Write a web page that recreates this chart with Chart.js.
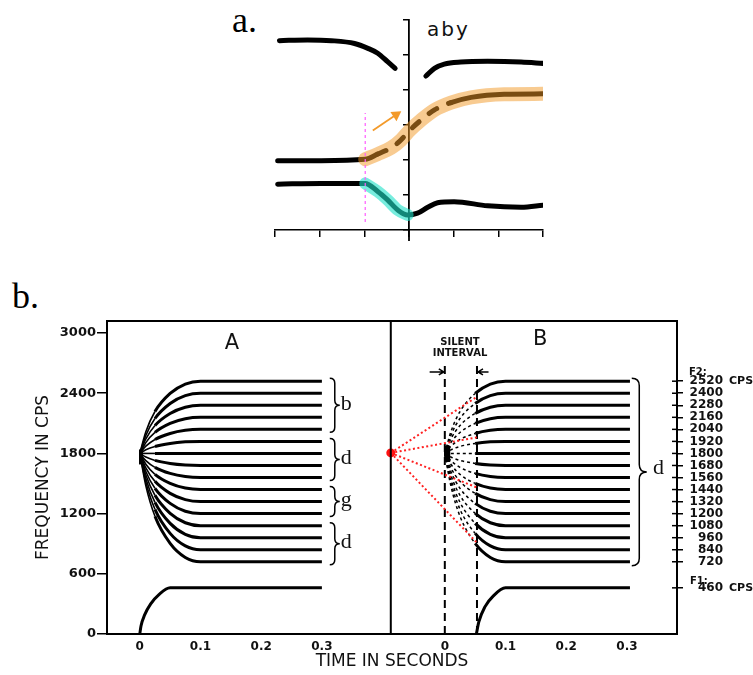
<!DOCTYPE html>
<html>
<head>
<meta charset="utf-8">
<script src="https://cdn.jsdelivr.net/npm/chart.js@4.4.1/dist/chart.umd.min.js"></script>
<style>
  html, body { margin: 0; padding: 0; background: #fff; }
  body { width: 753px; height: 675px; position: relative; overflow: hidden; }
  .lbl { position: absolute; font-family: "Liberation Serif", serif; font-size: 36px; line-height: 36px; color: #000; }
  #aby { position: absolute; left: 427px; top: 19px; font-family: "DejaVu Sans", sans-serif; font-size: 20px; line-height: 20px; letter-spacing: 2px; color: #111; }
  #chartA { position: absolute; left: 0; top: 0; }
  #chartB { position: absolute; left: 0; top: 270px; }
</style>
</head>
<body>
<div class="lbl" style="left:232px;top:2px">a.</div>
<div class="lbl" style="left:12px;top:278px">b.</div>
<div id="aby">aby</div>
<canvas id="chartA" width="753" height="260" style="width:753px;height:260px"></canvas>
<canvas id="chartB" width="753" height="405" style="width:753px;height:405px"></canvas>
<script>
"use strict";

// ---- a. formant sketch (x, y in tick spacings, x = 0 at the release) ----
const F3_LEFT_X = [-2.90, -2.27, -1.74, -1.22, -0.92, -0.70, -0.48, -0.31];
const F3_LEFT_Y = [5.41, 5.43, 5.41, 5.33, 5.19, 5.05, 4.81, 4.62];
const F3_RIGHT_X = [0.38, 0.57, 0.79, 1.16, 1.76, 2.51, 3.01];
const F3_RIGHT_Y = [4.40, 4.62, 4.74, 4.80, 4.82, 4.80, 4.76];
const F2_X = [-2.94, -1.97, -0.98, -0.70, -0.40, -0.18, 0.01, 0.27, 0.57, 0.94, 1.39, 2.13, 2.99];
const F2_Y = [1.98, 1.98, 2.02, 2.17, 2.35, 2.57, 2.84, 3.14, 3.43, 3.64, 3.79, 3.88, 3.89];
const F1_X = [-2.94, -1.97, -0.98, -0.70, -0.48, -0.25, -0.03, 0.19, 0.42, 0.64, 1.01, 1.76, 2.51, 3.01];
const F1_Y = [1.31, 1.33, 1.33, 1.10, 0.86, 0.57, 0.43, 0.48, 0.65, 0.78, 0.81, 0.69, 0.65, 0.71];
const ONSET_X = -0.98;
const MARKER_Y = [0.23, 3.34];
const ARROW_X = [-0.81, -0.29];
const ARROW_Y = [2.84, 3.29];

// ---- b. synthetic patterns, frequency in cps, time in s ----
const F2_LEVELS = [2520, 2400, 2280, 2160, 2040, 1920, 1800, 1680, 1560, 1440, 1320, 1200, 1080, 960, 840, 720];
const F2_HUB = 1800;
// shape of the F2 transitions: share of the way from hub to level
const TRANS_T = [0, 0.01, 0.025, 0.05, 0.075, 0.1];
const TRANS_FRAC = [0, 0.30, 0.58, 0.83, 0.96, 1];
const END_A = 0.30;
const END_B = 0.305;
const F1_LEVEL = 460;
const F1_A_T = [0, 0.002, 0.008, 0.018, 0.032, 0.05, 0.30];
const F1_A_F = [0, 80, 190, 300, 395, 460, 460];
const F1_B_T = [0.052, 0.056, 0.066, 0.08, 0.1, 0.305];
const F1_B_F = [0, 120, 270, 380, 460, 460];
const HUB_A = [1690, 1840];
const HUB_B = [1715, 1875];
const SILENCE = [0, 0.053];
const SILENCE_TOP = 2680;
const RED_DOT_F = 1805;
const FAN_END_T = 0.053;
const FAN_END_F = [2365, 1960, 1460, 910];
const GROUPS_A = [[2520, 2040, "b"], [1920, 1560, "d"], [1440, 1200, "g"], [1080, 720, "d"]];
const Y_TICKS = [0, 600, 1200, 1800, 2400, 3000];
const X_TICKS = [0, 0.1, 0.2, 0.3];
const B_OFFSET = 0.5025;   // where panel B's time 0 sits on the shared axis
const DIVIDER_T = 0.4135;

const pts = (xs, ys) => xs.map((x, i) => ({x, y: ys[i]}));
const noUi = {legend: {display: false}, tooltip: {enabled: false}};

// ================= chart a =================
const black = {
    borderColor: "#000", borderWidth: 5, borderCapStyle: "round", borderJoinStyle: "round",
    pointRadius: 0, cubicInterpolationMode: "monotone", order: 5
};

const axisExt = {
    id: "axisExt",
    afterDraw(chart) {
        const {ctx, scales: {x, y}} = chart;
        ctx.save();
        ctx.strokeStyle = "#000";
        ctx.lineWidth = 1.8;
        ctx.beginPath();
        ctx.moveTo(x.getPixelForValue(0), y.getPixelForValue(0));
        ctx.lineTo(x.getPixelForValue(0), y.getPixelForValue(0) + 11);
        ctx.stroke();
        ctx.restore();
    }
};

new Chart(document.getElementById("chartA"), {
    type: "line",
    data: {
        datasets: [
            {...black, data: pts(F3_LEFT_X, F3_LEFT_Y)},
            {...black, data: pts(F3_RIGHT_X, F3_RIGHT_Y)},
            {...black, data: pts(F2_X, F2_Y),
                segment: {borderDash: c => (c.p0.parsed.x >= -0.72 && c.p1.parsed.x <= 0.95) ? [9, 13] : undefined}},
            {...black, data: pts(F1_X, F1_Y)},
            {
                data: pts(F2_X, F2_Y).filter(p => p.x >= ONSET_X),
                borderColor: "rgba(242,152,35,0.5)", borderWidth: 14, borderCapStyle: "round",
                pointRadius: 0, cubicInterpolationMode: "monotone", order: 1
            },
            {
                data: pts(F1_X, F1_Y).filter(p => p.x >= ONSET_X && p.x <= 0.05),
                borderColor: "rgba(30,225,200,0.6)", borderWidth: 12, borderCapStyle: "round",
                pointRadius: 0, cubicInterpolationMode: "monotone", order: 1
            },
            {
                data: [{x: ONSET_X, y: MARKER_Y[0]}, {x: ONSET_X, y: MARKER_Y[1]}],
                borderColor: "#ff5cff", borderWidth: 1.2, borderDash: [3, 3], pointRadius: 0, order: 0
            },
            {
                data: pts(ARROW_X, ARROW_Y),
                borderColor: "#f39a2a", borderWidth: 1.8, pointRadius: [0, 4.5], pointStyle: "triangle",
                pointRotation: 56, pointBackgroundColor: "#f39a2a", pointBorderColor: "#f39a2a", order: 0
            }
        ]
    },
    options: {
        responsive: false, animation: false, events: [],
        layout: {padding: {left: 275, right: 210, top: 20, bottom: 10}},
        plugins: noUi,
        scales: {
            x: {
                type: "linear", min: -3, max: 3,
                ticks: {display: false, stepSize: 1},
                grid: {drawOnChartArea: false, tickLength: 7, color: "#000", lineWidth: 1.5},
                border: {color: "#000", width: 1.5},
                afterFit: s => { s.height = 20; }
            },
            y: {
                type: "linear", position: {x: 0}, min: 0, max: 6,
                ticks: {display: false, stepSize: 1},
                grid: {drawOnChartArea: false, tickLength: 5, color: "#000", lineWidth: 1.5},
                border: {color: "#000", width: 1.8},
                afterFit: s => { s.width = 0; }
            }
        }
    },
    plugins: [axisExt]
});

// ================= chart b =================
const thick = {borderColor: "#000", borderWidth: 3, pointRadius: 0, cubicInterpolationMode: "monotone", order: 2};

function transition(level, t0, tEnd) {
    const p = TRANS_T.map((t, i) => ({x: t0 + t, y: F2_HUB + (level - F2_HUB) * TRANS_FRAC[i]}));
    p.push({x: t0 + tEnd, y: level});
    return p;
}

const silentEnd = B_OFFSET + SILENCE[1] - 0.001;
const datasetsB = [];

F2_LEVELS.forEach(level => {
    datasetsB.push({...thick, data: transition(level, 0, END_A),
        segment: {borderWidth: c => c.p0.parsed.x < 0.012 ? 1.6 : undefined}});
    datasetsB.push({...thick, data: transition(level, B_OFFSET, END_B),
        segment: {
            borderDash: c => c.p1.parsed.x <= silentEnd ? [3, 3] : undefined,
            borderWidth: c => c.p1.parsed.x <= silentEnd ? 1.5 : undefined
        }});
});
datasetsB.push({...thick, data: pts(F1_A_T, F1_A_F)});
datasetsB.push({...thick, data: pts(F1_B_T.map(t => t + B_OFFSET), F1_B_F)});
datasetsB.push({...thick, borderWidth: 4, data: [{x: 0.002, y: HUB_A[0]}, {x: 0.002, y: HUB_A[1]}]});
datasetsB.push({...thick, borderWidth: 6, data: [{x: B_OFFSET + 0.004, y: HUB_B[0]}, {x: B_OFFSET + 0.004, y: HUB_B[1]}]});
SILENCE.forEach(t => {
    datasetsB.push({data: [{x: B_OFFSET + t, y: 0}, {x: B_OFFSET + t, y: SILENCE_TOP}],
        borderColor: "#000", borderWidth: 2, borderDash: [8, 5], pointRadius: 0, order: 2});
});
FAN_END_F.forEach(f => {
    datasetsB.push({data: [{x: DIVIDER_T, y: RED_DOT_F}, {x: B_OFFSET + FAN_END_T, y: f}],
        borderColor: "#ff2020", borderWidth: 2, borderDash: [2, 2.5], pointRadius: 0, order: 0});
});
datasetsB.push({data: [{x: DIVIDER_T, y: RED_DOT_F}], showLine: false, pointRadius: 4.5,
    pointBackgroundColor: "#ff1010", pointBorderWidth: 0, order: 0});

function brace(ctx, x, yTop, yBot, w) {
    const xm = x + w / 2, ym = (yTop + yBot) / 2, r = w / 2;
    ctx.beginPath();
    ctx.moveTo(x, yTop);
    ctx.quadraticCurveTo(xm, yTop, xm, yTop + r);
    ctx.lineTo(xm, ym - r);
    ctx.quadraticCurveTo(xm, ym, x + w, ym);
    ctx.quadraticCurveTo(xm, ym, xm, ym + r);
    ctx.lineTo(xm, yBot - r);
    ctx.quadraticCurveTo(xm, yBot, x, yBot);
    ctx.stroke();
}

function arrow(ctx, x1, y, x2) {
    const d = Math.sign(x2 - x1);
    ctx.beginPath();
    ctx.moveTo(x1, y); ctx.lineTo(x2, y);
    ctx.moveTo(x2 - d * 5, y - 3); ctx.lineTo(x2, y); ctx.lineTo(x2 - d * 5, y + 3);
    ctx.stroke();
}

const decorB = {
    id: "decorB",
    afterDraw(chart) {
        const {ctx, chartArea: a, scales: {x, y, y2}} = chart;
        const px = v => x.getPixelForValue(v), py = v => y.getPixelForValue(v);
        ctx.save();
        ctx.strokeStyle = "#000";
        ctx.fillStyle = "#111";
        // top of frame and panel divider
        ctx.lineWidth = 2;
        ctx.beginPath();
        ctx.moveTo(a.left, a.top); ctx.lineTo(a.right, a.top);
        ctx.moveTo(px(DIVIDER_T), a.top); ctx.lineTo(px(DIVIDER_T), a.bottom);
        ctx.stroke();
        // right-hand ticks cross the frame line
        ctx.lineWidth = 1.5;
        y2.ticks.forEach(t => {
            const yy = py(t.value);
            ctx.beginPath(); ctx.moveTo(a.right - 5, yy); ctx.lineTo(a.right, yy); ctx.stroke();
        });
        // braces and consonant letters
        ctx.font = "22px 'Liberation Serif'";
        ctx.textAlign = "left";
        ctx.textBaseline = "middle";
        GROUPS_A.forEach(([top, bot, letter]) => {
            const y0 = py(top) - 3, y1 = py(bot) + 3;
            brace(ctx, px(0.313), y0, y1, 10);
            ctx.fillText(letter, px(0.331), (y0 + y1) / 2 - 1);
        });
        brace(ctx, px(B_OFFSET + 0.308), py(2520) - 3, py(720) + 4, 15);
        ctx.fillText("d", px(B_OFFSET + 0.343), py(1650));
        // panel letters
        ctx.font = "21px 'DejaVu Sans'";
        ctx.textAlign = "center";
        ctx.fillText("A", px(0.152), py(2900));
        ctx.fillText("B", px(B_OFFSET + 0.157), py(2940));
        // silent interval
        ctx.font = "bold 10px 'DejaVu Sans'";
        ctx.fillText("SILENT", px(B_OFFSET + 0.025), py(2910));
        ctx.fillText("INTERVAL", px(B_OFFSET + 0.025), py(2800));
        ctx.lineWidth = 1.5;
        arrow(ctx, px(B_OFFSET - 0.025), py(2612), px(B_OFFSET) - 1);
        arrow(ctx, px(B_OFFSET + 0.072), py(2612), px(B_OFFSET + SILENCE[1]) + 1);
        // right axis notes
        ctx.textAlign = "left";
        ctx.fillText("F2:", y2.left + 12, py(2612));
        ctx.fillText("F1:", y2.left + 13, py(520));
        ctx.font = "bold 11px 'DejaVu Sans'";
        ctx.fillText("CPS", y2.left + 52, py(2520));
        ctx.fillText("CPS", y2.left + 52, py(F1_LEVEL));
        ctx.restore();
    }
};

const tickFont = size => ({family: "DejaVu Sans", size, weight: "bold"});

new Chart(document.getElementById("chartB"), {
    type: "line",
    data: {datasets: datasetsB},
    options: {
        responsive: false, animation: false, events: [],
        layout: {padding: {top: 51, left: 0, right: 30, bottom: 0}},
        plugins: noUi,
        scales: {
            x: {
                type: "linear", min: -0.054, max: 0.885,
                afterBuildTicks: s => { s.ticks = X_TICKS.concat(X_TICKS.map(t => t + B_OFFSET)).map(v => ({value: v})); },
                ticks: {
                    autoSkip: false, maxRotation: 0, padding: 6, color: "#111", font: tickFont(12),
                    callback: v => {
                        const t = Math.round((v > 0.45 ? v - B_OFFSET : v) * 10) / 10;
                        return t === 0 ? "0" : t.toFixed(1);
                    }
                },
                grid: {drawOnChartArea: false, drawTicks: false},
                border: {color: "#000", width: 2},
                title: {display: true, text: "TIME IN SECONDS", color: "#111",
                    font: {family: "DejaVu Sans", size: 17}, padding: {top: 0, bottom: 3}},
                afterFit: s => { s.height = 41; }
            },
            y: {
                type: "linear", position: "left", min: 0, max: 3120,
                afterBuildTicks: s => { s.ticks = Y_TICKS.map(v => ({value: v})); },
                ticks: {autoSkip: false, padding: 1, color: "#111", font: tickFont(13), callback: v => String(v)},
                grid: {drawOnChartArea: false, tickLength: 10, color: "#000", lineWidth: 1.5},
                border: {color: "#000", width: 2},
                title: {display: true, text: "FREQUENCY IN CPS", color: "#111",
                    font: {family: "DejaVu Sans", size: 17}, padding: {top: 33, bottom: 0}},
                afterFit: s => { s.width = 107; }
            },
            y2: {
                type: "linear", position: "right", min: 0, max: 3120,
                afterBuildTicks: s => { s.ticks = [F1_LEVEL].concat(F2_LEVELS).map(v => ({value: v})); },
                ticks: {autoSkip: false, crossAlign: "far", padding: 6, color: "#111", font: tickFont(12), callback: v => String(v)},
                grid: {drawOnChartArea: false, tickLength: 6, color: "#000", lineWidth: 1.5},
                border: {color: "#000", width: 2},
                afterFit: s => { s.width = 46; }
            }
        }
    },
    plugins: [decorB]
});
</script>
</body>
</html>
